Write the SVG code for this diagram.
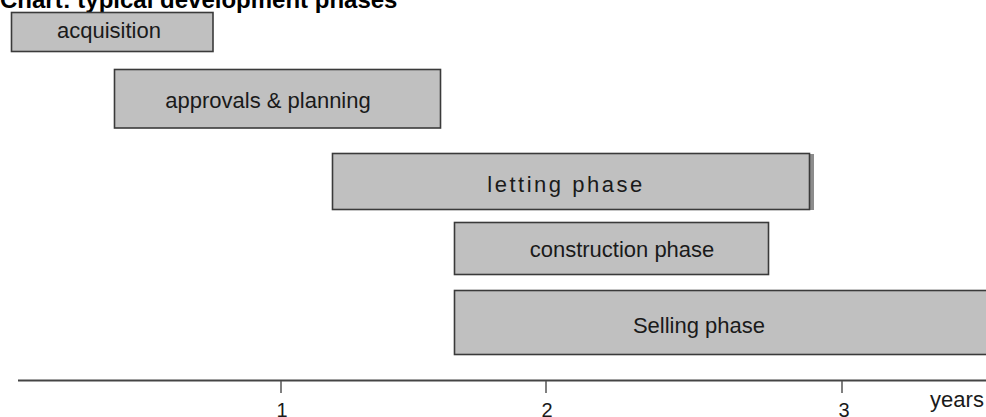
<svg xmlns="http://www.w3.org/2000/svg" width="986" height="417" viewBox="0 0 986 417">
<style>
.box{fill:#c0c0c0;stroke:#3a3a3a;stroke-width:1.6}
.lbl{font-family:"Liberation Sans",Arial,sans-serif;font-size:22px;fill:#1a1a1a;text-anchor:middle}
.tick{stroke:#555;stroke-width:1.5}
.num{font-family:"Liberation Sans",Arial,sans-serif;font-size:20px;fill:#1a1a1a;text-anchor:middle}
</style>
<rect width="986" height="417" fill="#fff"/>
<text x="0" y="8" font-family="Liberation Sans,Arial,sans-serif" font-size="24" font-weight="bold" fill="#000">Chart: typical development phases</text>
<g id="acquisition">
<rect class="box" x="11.5" y="12.5" width="201.5" height="39"/>
<text class="lbl" x="109" y="38" font-size="22.5">acquisition</text>
</g>
<g id="approvals">
<rect class="box" x="114.5" y="69.5" width="326" height="58.5"/>
<text class="lbl" x="268" y="108" font-size="22.5">approvals &amp; planning</text>
</g>
<g id="letting">
<rect x="809" y="154" width="5" height="56" fill="#8c8c8c"/>
<rect class="box" x="332.5" y="153.5" width="477" height="56"/>
<text class="lbl" x="566" y="192" letter-spacing="2.5">letting phase</text>
</g>
<g id="construction">
<rect class="box" x="454.5" y="222.5" width="314" height="52"/>
<text class="lbl" x="622" y="257" font-size="22.5">construction phase</text>
</g>
<g id="selling">
<rect class="box" x="454.5" y="290.5" width="535" height="64"/>
<text class="lbl" x="699" y="333" font-size="24">Selling phase</text>
</g>
<g id="axis">
<line x1="18" y1="380.5" x2="986" y2="380.5" stroke="#444" stroke-width="2"/>
<line class="tick" x1="281" y1="381" x2="281" y2="393"/>
<line class="tick" x1="546" y1="381" x2="546" y2="393"/>
<line class="tick" x1="842" y1="381" x2="842" y2="393"/>
<text class="num" x="282" y="417">1</text>
<text class="num" x="547" y="417">2</text>
<text class="num" x="844" y="417">3</text>
<text class="lbl" x="957" y="407" font-size="21">years</text>
</g>
</svg>
